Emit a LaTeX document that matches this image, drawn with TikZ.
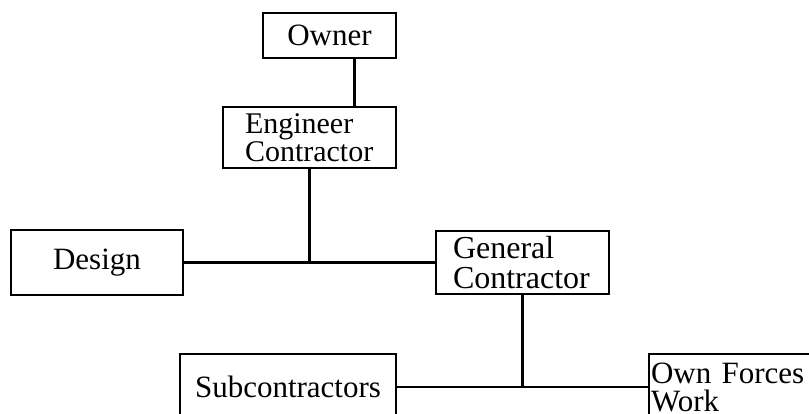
\documentclass[tikz,border=0pt]{standalone}
\usepackage{fontspec}
\setmainfont{Liberation Serif}
\tikzstyle{box} = [draw, line width=2.5pt, inner sep=0pt, font=\fontsize{31}{28}\selectfont]
\tikzstyle{link} = [line width=2.5pt]

\begin{document}
\begin{tikzpicture}[x=1pt, y=-1pt]
      \clip (0,0) rectangle (809,414);
      \node[box, minimum width=133pt, minimum height=45pt] (owner) at (329.5,35.5) {Owner};
      \node[box, text width=129pt, inner xsep=22pt, align=left, minimum height=61pt, font=\fontsize{30}{27.5}\selectfont] (engineer) at (309.5,137.5) {Engineer\\Contractor};
      \node[box, minimum width=172pt, minimum height=65pt] (design) at (97,262.5) {Design};
      \node[box, text width=139pt, inner xsep=17pt, align=left, minimum height=63pt, font=\fontsize{32}{29.5}\selectfont] (general) at (522.5,262.5) {General\\Contractor};
      \node[box, minimum width=216pt, minimum height=66pt] (sub) at (288,387) {Subcontractors};
      \node[box, text width=166pt, inner xsep=2pt, align=left, minimum height=66pt] (own) at (734,387) {Own Forces\\Work};
      \coordinate (oe) at ([xshift=25pt]owner.south);
      \draw[link] (oe) -- (oe |- engineer.north);
      \draw[link] (engineer.south) -- (engineer.south |- design.east);
      \draw[link] (design.east) -- (general.west);
      \draw[link] (general.south) -- (general.south |- sub.east);
      \draw[link] (sub.east) -- (own.west);
    \end{tikzpicture}
\end{document}
